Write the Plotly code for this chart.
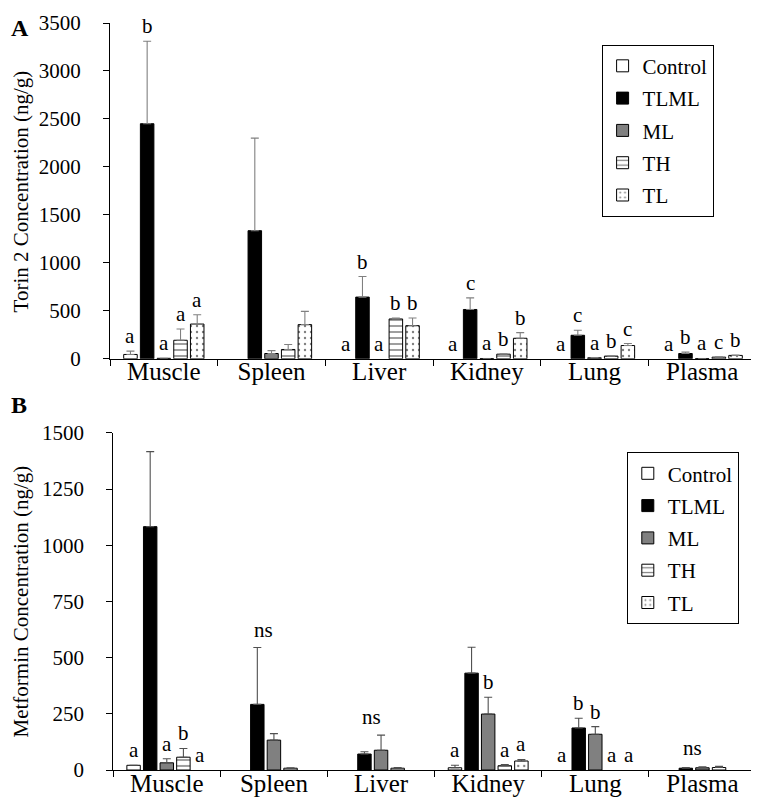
import plotly.graph_objects as go
from plotly.subplots import make_subplots

tissues = ["Muscle", "Spleen", "Liver", "Kidney", "Lung", "Plasma"]
groups = ["Control", "TLML", "ML", "TH", "TL"]

# Panel A: Torin 2 concentration (ng/g): mean and upper error (SD)
torin_control = [45, 0, 0, 0, 0, 0]
torin_tlml = [2450, 1335, 643, 514, 245, 55]
torin_ml = [5, 55, 0, 3, 10, 3]
torin_th = [193, 97, 415, 48, 28, 17]
torin_tl = [362, 356, 345, 214, 138, 35]

torin_control_err = [35, 0, 0, 0, 0, 0]
torin_tlml_err = [860, 965, 214, 121, 52, 14]
torin_ml_err = [0, 30, 0, 0, 3, 0]
torin_th_err = [117, 52, 10, 5, 4, 4]
torin_tl_err = [97, 138, 80, 59, 21, 4]

torin_letters = [
    ["a", "b", "a", "a", "a"],
    ["", "", "", "", ""],
    ["a", "b", "a", "b", "b"],
    ["a", "c", "a", "b", "b"],
    ["a", "c", "a", "b", "c"],
    ["a", "b", "a", "c", "b"],
]

# Panel B: Metformin concentration (ng/g)
met_control = [21, 0, 0, 10, 0, 0]
met_tlml = [1083, 292, 71, 431, 187, 8]
met_ml = [32, 133, 88, 249, 159, 10]
met_th = [57, 8, 8, 19, 0, 11]
met_tl = [0, 0, 0, 40, 0, 0]

met_control_err = [0, 0, 0, 11, 0, 0]
met_tlml_err = [334, 253, 10, 115, 43, 3]
met_ml_err = [18, 29, 67, 75, 34, 4]
met_th_err = [39, 2, 3, 5, 0, 5]
met_tl_err = [0, 0, 0, 7, 0, 0]

met_letters = [
    ["a", "", "a", "b", "a"],
    ["", "", "", "", ""],
    ["", "", "", "", ""],
    ["a", "", "b", "a", "a"],
    ["a", "b", "b", "a", "a"],
    ["", "", "", "", ""],
]
met_ns = ["", "ns", "ns", "", "", "ns"]

FONT = "Liberation Serif"
BARGAP = 0.225
GROUPGAP = 0.19

styles = {
    "Control": dict(color="white"),
    "TLML": dict(color="black"),
    "ML": dict(color="#808080"),
    "TH": dict(color="white", pattern=dict(shape="-", fgcolor="black", bgcolor="white", size=6, solidity=0.25)),
    "TL": dict(color="white", pattern=dict(shape=".", fgcolor="black", bgcolor="white", size=6, solidity=0.12)),
}

fig = make_subplots(rows=2, cols=1, vertical_spacing=0.1)

torin_vals = [torin_control, torin_tlml, torin_ml, torin_th, torin_tl]
torin_errs = [torin_control_err, torin_tlml_err, torin_ml_err, torin_th_err, torin_tl_err]
met_vals = [met_control, met_tlml, met_ml, met_th, met_tl]
met_errs = [met_control_err, met_tlml_err, met_ml_err, met_th_err, met_tl_err]

for row, vals, errs, ecolor, legend in [
    (1, torin_vals, torin_errs, "#808080", "legend"),
    (2, met_vals, met_errs, "#505050", "legend2"),
]:
    for g, v, e in zip(groups, vals, errs):
        st = styles[g]
        marker = dict(color=st["color"], line=dict(color="black", width=1))
        if "pattern" in st:
            marker["pattern"] = st["pattern"]
        # zero means not detected: no bar drawn
        yv = [val if val > 0 else None for val in v]
        fig.add_trace(
            go.Bar(
                x=tissues, y=yv, name=g, marker=marker,
                error_y=dict(type="data", symmetric=False, array=e,
                             arrayminus=[0] * len(e), color=ecolor,
                             thickness=1.1, width=4),
                legend=legend, legendgroup=f"{legend}{g}",
                showlegend=True,
            ),
            row=row, col=1,
        )

slot = (1 - BARGAP) / 5

annotations = []
for row, vals, errs, letters, xref, yref in [
    (1, torin_vals, torin_errs, torin_letters, "x", "y"),
    (2, met_vals, met_errs, met_letters, "x2", "y2"),
]:
    for ti in range(len(tissues)):
        for gi in range(5):
            lab = letters[ti][gi]
            if not lab:
                continue
            top = vals[gi][ti] + errs[gi][ti]
            annotations.append(dict(
                x=ti + (gi - 2) * slot, y=top, xref=xref, yref=yref,
                text=lab, showarrow=False, yanchor="bottom", yshift=1,
                font=dict(family=FONT, size=21, color="black"),
            ))

for ti, lab in enumerate(met_ns):
    if not lab:
        continue
    top = max(met_vals[gi][ti] + met_errs[gi][ti] for gi in range(5))
    annotations.append(dict(
        x=ti - 0.6 * slot, y=top, xref="x2", yref="y2",
        text=lab, showarrow=False, yanchor="bottom", yshift=4,
        font=dict(family=FONT, size=21, color="black"),
    ))

# panel letters and y-axis titles
annotations += [
    dict(text="<b>A</b>", x=-0.156, y=1.0133, xref="paper", yref="paper",
         showarrow=False, xanchor="left", yanchor="top",
         font=dict(family=FONT, size=24, color="black")),
    dict(text="<b>B</b>", x=-0.156, y=0.489, xref="paper", yref="paper",
         showarrow=False, xanchor="left", yanchor="middle",
         font=dict(family=FONT, size=24, color="black")),
    dict(text="Torin 2 Concentration (ng/g)", x=-0.1378, y=0.7745, xref="paper", yref="paper",
         showarrow=False, textangle=-90, xanchor="center", yanchor="middle",
         font=dict(family=FONT, size=21, color="black")),
    dict(text="Metformin Concentration (ng/g)", x=-0.1378, y=0.2256, xref="paper", yref="paper",
         showarrow=False, textangle=-90, xanchor="center", yanchor="middle",
         font=dict(family=FONT, size=21, color="black")),
]

axis_common = dict(showline=True, linecolor="black", linewidth=1.3, ticks="outside",
                   tickcolor="black", ticklen=6, showgrid=False, zeroline=False)
ytickfont = dict(family=FONT, size=21, color="black")
xtickfont = dict(family=FONT, size=25, color="black")

fig.update_layout(
    width=751, height=795,
    margin=dict(l=102, r=3, t=10, b=33),
    paper_bgcolor="white", plot_bgcolor="white",
    barmode="group", bargap=BARGAP, bargroupgap=GROUPGAP,
    font=dict(family=FONT, color="black"),
    annotations=annotations,
    xaxis=dict(domain=[0, 1], anchor="y", type="category", tickson="boundaries",
               range=[-0.5, 5.5], tickfont=xtickfont, ticklabelstandoff=-10, **axis_common),
    yaxis=dict(domain=[0.5505, 1], anchor="x", range=[0, 3500], dtick=500,
               tickfont=ytickfont, ticklabelstandoff=18, **axis_common),
    xaxis2=dict(domain=[0.005, 1], anchor="y2", type="category", tickson="boundaries",
                range=[-0.5, 5.5], tickfont=xtickfont, ticklabelstandoff=-9, **axis_common),
    yaxis2=dict(domain=[0, 0.4512], anchor="x2", range=[0, 1500], dtick=250,
                tickfont=ytickfont, ticklabelstandoff=18, **axis_common),
    legend=dict(x=0.761, y=0.971, xanchor="left", yanchor="top",
                bordercolor="black", borderwidth=1, bgcolor="white",
                font=dict(family=FONT, size=21, color="black"),
                tracegroupgap=2, itemwidth=30),
    legend2=dict(x=0.80, y=0.4255, xanchor="left", yanchor="top",
                 bordercolor="black", borderwidth=1, bgcolor="white",
                 font=dict(family=FONT, size=21, color="black"),
                 tracegroupgap=2, itemwidth=30),
)

fig.write_html("out.html")
